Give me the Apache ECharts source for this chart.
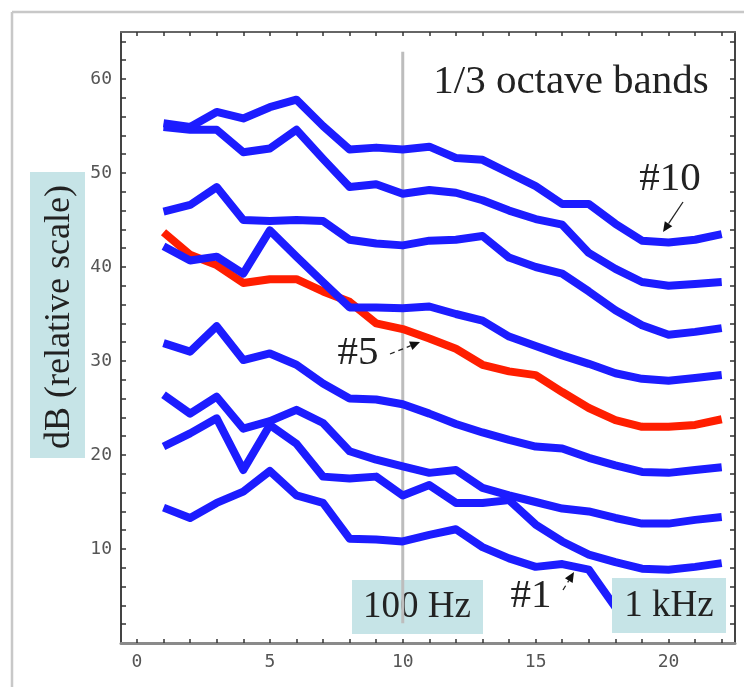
<!DOCTYPE html>
<html><head><meta charset="utf-8">
<script src="https://cdn.jsdelivr.net/npm/echarts@6/dist/echarts.min.js"></script>
<style>html,body{margin:0;padding:0;background:#fff}#c{width:744px;height:687px}</style>
</head><body><div id="c"></div>
<script>
// ---- data ----
const bands = [1,2,3,4,5,6,7,8,9,10,11,12,13,14,15,16,17,18,19,20,21,22];
const xTickLabels = [0,5,10,15,20];
const yTickLabels = [10,20,30,40,50,60];
const band1 = [14.4,13.3,14.9,16.1,18.3,15.7,14.9,11.1,11.0,10.8,11.5,12.1,10.2,9.0,8.1,8.4,7.8,3.8];
const band2 = [20.9,22.3,23.9,18.4,23.2,21.2,17.7,17.5,17.7,15.7,16.8,14.9,14.9,15.2,12.6,10.8,9.4,8.6,7.9,7.8,8.1,8.5];
const band3 = [26.4,24.4,26.2,22.8,23.6,24.8,23.4,20.4,19.5,18.8,18.1,18.4,16.5,15.7,15.0,14.3,14.0,13.3,12.7,12.7,13.1,13.4];
const band4 = [31.9,31.0,33.7,30.1,30.8,29.6,27.6,26.0,25.9,25.4,24.4,23.3,22.4,21.6,20.9,20.7,19.7,18.9,18.2,18.1,18.4,18.7];
const band5 = [43.7,41.3,40.2,38.3,38.7,38.7,37.4,36.3,34.0,33.4,32.4,31.3,29.6,28.9,28.5,26.7,25.0,23.7,23.0,23.0,23.2,23.8];
const band6 = [42.2,40.7,41.1,39.3,43.9,41.1,38.4,35.7,35.7,35.6,35.8,35.0,34.3,32.6,31.6,30.6,29.7,28.7,28.1,27.9,28.2,28.5];
const band7 = [45.9,46.6,48.5,45.0,44.9,45.0,44.9,42.9,42.5,42.3,42.8,42.9,43.3,41.0,40.0,39.3,37.4,35.4,33.8,32.8,33.1,33.5];
const band8 = [54.9,54.6,54.6,52.2,52.6,54.6,51.5,48.5,48.8,47.8,48.2,47.9,47.1,46.0,45.1,44.5,41.5,39.8,38.4,38.0,38.2,38.4];
const band10 = [55.3,54.9,56.5,55.8,57.0,57.8,55.0,52.5,52.7,52.5,52.8,51.6,51.4,50.0,48.6,46.7,46.7,44.6,42.8,42.6,42.9,43.5];
const seriesNames = ['#1','#2','#3','#4','#5','#6','#7','#8','#10'];
const seriesValues = [band1,band2,band3,band4,band5,band6,band7,band8,band10];
const markerBand = 10;

// ---- chart ----
const BLUE = '#1c1cff', RED = '#ff1e00';
const chart = echarts.init(document.getElementById('c'), null, {renderer:'canvas'});
const range = (a,b,s)=>{const r=[];for(let v=a;v<=b+1e-9;v+=s)r.push(v);return r;};
const tickFont = {fontFamily:'DejaVu Sans Mono', fontSize:18, color:'#555'};

const series = seriesValues.map((vals,i)=>({
  name: seriesNames[i], type:'line', showSymbol:false, symbol:'none', animation:false,
  data: vals.map((v,j)=>[bands[j], v]),
  lineStyle:{color: seriesNames[i]==='#5'?RED:BLUE, width:8, join:'round', cap:'butt'},
  z: 3
}));

chart.setOption({
  animation:false,
  backgroundColor:'#fff',
  grid:{left:121, right:9, top:32, bottom:44, containLabel:false},
  xAxis:[
    {type:'value', min:-0.6, max:22.5, position:'bottom',
     axisLine:{show:true, onZero:false, lineStyle:{color:'#8a8a8a', width:3}},
     axisTick:{show:true, inside:true, length:4, customValues: range(0,22,1), lineStyle:{color:'#333', width:1.5}},
     axisLabel:{show:true, customValues: xTickLabels, margin:10, ...tickFont},
     splitLine:{show:false}},
    {type:'value', min:-0.6, max:22.5, position:'top',
     axisLine:{show:true, onZero:false, lineStyle:{color:'#666', width:2}},
     axisTick:{show:true, inside:true, length:4, customValues: range(0,22,1), lineStyle:{color:'#333', width:1.5}},
     axisLabel:{show:false}, splitLine:{show:false}}
  ],
  yAxis:[
    {type:'value', min:0, max:65, position:'left',
     axisLine:{show:true, onZero:false, lineStyle:{color:'#444', width:2}},
     axisTick:{show:true, inside:true, length:5, customValues: range(2,64,2), lineStyle:{color:'#333', width:1.5}},
     axisLabel:{show:true, customValues: yTickLabels, margin:9, ...tickFont},
     splitLine:{show:false}},
    {type:'value', min:0, max:65, position:'right',
     axisLine:{show:true, onZero:false, lineStyle:{color:'#444', width:2}},
     axisTick:{show:true, inside:true, length:5, customValues: range(2,64,2), lineStyle:{color:'#333', width:1.5}},
     axisLabel:{show:false}, splitLine:{show:false}}
  ],
  series: series
});

// ---- annotations ----
const px = (x,y)=>chart.convertToPixel({xAxisIndex:0,yAxisIndex:0},[x,y]);
function arrow(x1,y1,x2,y2,dash){
  const dx=x2-x1, dy=y2-y1, L=Math.hypot(dx,dy), ux=dx/L, uy=dy/L;
  const hl=10, hw=4.5;
  const bx=x2-ux*hl, by=y2-uy*hl;
  return [
    {type:'line', z:20, shape:{x1:x1,y1:y1,x2:bx,y2:by}, style:{stroke:'#222', lineWidth:1.3, lineDash:dash?[5,4]:null}},
    {type:'polygon', z:20, shape:{points:[[x2,y2],[bx-uy*hw,by+ux*hw],[bx+uy*hw,by-ux*hw]]}, style:{fill:'#111'}}
  ];
}
const vTop = px(markerBand, 62.9), vBot = px(markerBand, 2.1);
const graphics = [
  // outer panel border
  {type:'line', z:0, shape:{x1:12,y1:12,x2:744,y2:12}, style:{stroke:'#c8c8c8', lineWidth:2.5}},
  {type:'line', z:0, shape:{x1:12,y1:12,x2:12,y2:687}, style:{stroke:'#c8c8c8', lineWidth:2.5}},
  // y-axis title box
  {type:'rect', z:1, shape:{x:30,y:172,width:55,height:286}, style:{fill:'#c6e4e7'}},
  {type:'text', z:2, x:60, y:317, rotation:Math.PI/2,
   style:{text:'dB (relative scale)', font:'36px "Liberation Serif"', fill:'#222', align:'center', verticalAlign:'middle'}},
  // 100 Hz box
  {type:'rect', z:0, shape:{x:352,y:580,width:131,height:54}, style:{fill:'#c6e4e7'}},
  {type:'text', z:1, x:417, y:607, style:{text:'100 Hz', font:'37px "Liberation Serif"', fill:'#222', align:'center', verticalAlign:'middle'}},
  // vertical marker at band 10 (100 Hz)
  {type:'line', z:1, shape:{x1:vTop[0],y1:vTop[1],x2:vBot[0],y2:vBot[1]}, style:{stroke:'#bdbdbd', lineWidth:3}},
  // 1 kHz box (drawn over band #1 tail)
  {type:'rect', z:10, shape:{x:612,y:578,width:114,height:55}, style:{fill:'#c6e4e7'}},
  {type:'text', z:11, x:669, y:606, style:{text:'1 kHz', font:'37px "Liberation Serif"', fill:'#222', align:'center', verticalAlign:'middle'}},
  // titles & labels
  {type:'text', z:20, x:571, y:82, style:{text:'1/3 octave bands', font:'41px "Liberation Serif"', fill:'#222', align:'center', verticalAlign:'middle'}},
  {type:'text', z:20, x:670, y:179, style:{text:'#10', font:'41px "Liberation Serif"', fill:'#222', align:'center', verticalAlign:'middle'}},
  {type:'text', z:20, x:358, y:353, style:{text:'#5', font:'41px "Liberation Serif"', fill:'#222', align:'center', verticalAlign:'middle'}},
  {type:'text', z:20, x:531, y:596, style:{text:'#1', font:'41px "Liberation Serif"', fill:'#222', align:'center', verticalAlign:'middle'}},
  ...arrow(683,202,663,232,false),
  ...arrow(390,354,420,342,true),
  ...arrow(563,590,574,572,true)
];
chart.setOption({graphic:{elements:graphics}});
</script>
</body></html>
